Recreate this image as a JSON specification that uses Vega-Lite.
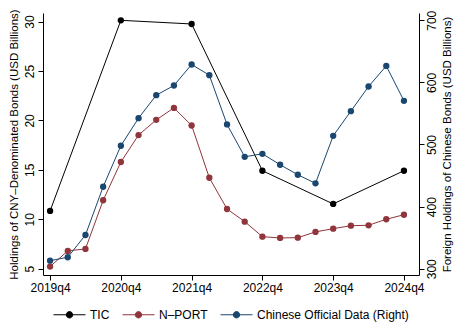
{
  "$schema": "https://vega.github.io/schema/vega-lite/v6.json",
  "width": 376,
  "height": 262,
  "autosize": "none",
  "padding": {"left": 43, "top": 13, "right": 41, "bottom": 54},
  "background": "white",
  "config": {
    "font": "Liberation Sans",
    "view": {"stroke": null},
    "axis": {"grid": false, "domainColor": "black", "tickColor": "black", "domainWidth": 1, "tickWidth": 1, "tickSize": 5, "labelColor": "black", "titleColor": "black", "labelFont": "Liberation Sans", "titleFont": "Liberation Sans", "labelFontSize": 12, "titleFontSize": 11.5, "titleFontWeight": "normal"}
  },
  "data": {"values": [
    {"t": 0, "s": "TIC", "v": 10.84},
    {"t": 4, "s": "TIC", "v": 30.13},
    {"t": 8, "s": "TIC", "v": 29.76},
    {"t": 12, "s": "TIC", "v": 14.91},
    {"t": 16, "s": "TIC", "v": 11.55},
    {"t": 20, "s": "TIC", "v": 14.91},
    {"t": 0, "s": "N–PORT", "v": 5.21},
    {"t": 1, "s": "N–PORT", "v": 6.8},
    {"t": 2, "s": "N–PORT", "v": 7.0},
    {"t": 3, "s": "N–PORT", "v": 11.92},
    {"t": 4, "s": "N–PORT", "v": 15.79},
    {"t": 5, "s": "N–PORT", "v": 18.52},
    {"t": 6, "s": "N–PORT", "v": 20.06},
    {"t": 7, "s": "N–PORT", "v": 21.27},
    {"t": 8, "s": "N–PORT", "v": 19.49},
    {"t": 9, "s": "N–PORT", "v": 14.2},
    {"t": 10, "s": "N–PORT", "v": 11.04},
    {"t": 11, "s": "N–PORT", "v": 9.76},
    {"t": 12, "s": "N–PORT", "v": 8.24},
    {"t": 13, "s": "N–PORT", "v": 8.11},
    {"t": 14, "s": "N–PORT", "v": 8.14},
    {"t": 15, "s": "N–PORT", "v": 8.72},
    {"t": 16, "s": "N–PORT", "v": 9.05},
    {"t": 17, "s": "N–PORT", "v": 9.35},
    {"t": 18, "s": "N–PORT", "v": 9.39},
    {"t": 19, "s": "N–PORT", "v": 10.0},
    {"t": 20, "s": "N–PORT", "v": 10.46},
    {"t": 0, "s": "Chinese Official Data (Right)", "v": 313},
    {"t": 1, "s": "Chinese Official Data (Right)", "v": 318.5},
    {"t": 2, "s": "Chinese Official Data (Right)", "v": 354.3},
    {"t": 3, "s": "Chinese Official Data (Right)", "v": 432},
    {"t": 4, "s": "Chinese Official Data (Right)", "v": 498},
    {"t": 5, "s": "Chinese Official Data (Right)", "v": 542.4},
    {"t": 6, "s": "Chinese Official Data (Right)", "v": 579.4},
    {"t": 7, "s": "Chinese Official Data (Right)", "v": 595},
    {"t": 8, "s": "Chinese Official Data (Right)", "v": 628.8},
    {"t": 9, "s": "Chinese Official Data (Right)", "v": 611.6},
    {"t": 10, "s": "Chinese Official Data (Right)", "v": 532.3},
    {"t": 11, "s": "Chinese Official Data (Right)", "v": 480.2},
    {"t": 12, "s": "Chinese Official Data (Right)", "v": 485},
    {"t": 13, "s": "Chinese Official Data (Right)", "v": 467.4},
    {"t": 14, "s": "Chinese Official Data (Right)", "v": 451.3},
    {"t": 15, "s": "Chinese Official Data (Right)", "v": 437.5},
    {"t": 16, "s": "Chinese Official Data (Right)", "v": 514},
    {"t": 17, "s": "Chinese Official Data (Right)", "v": 553.7},
    {"t": 18, "s": "Chinese Official Data (Right)", "v": 593.4},
    {"t": 19, "s": "Chinese Official Data (Right)", "v": 626.5},
    {"t": 20, "s": "Chinese Official Data (Right)", "v": 570.3}
  ]},
  "encoding": {
    "x": {"field": "t", "type": "quantitative", "scale": {"domain": [-0.4, 20.85], "nice": false, "zero": false},
      "axis": {"title": null, "values": [0, 4, 8, 12, 16, 20], "labelExpr": "toString(2019 + datum.value / 4) + 'q4'", "labelPadding": 2, "labelFlush": false}},
    "color": {"field": "s", "type": "nominal",
      "scale": {"domain": ["TIC", "N–PORT", "Chinese Official Data (Right)"], "range": ["#000000", "#90353b", "#1a476f"]},
      "legend": {"title": null, "orient": "none", "direction": "horizontal", "legendX": 10, "legendY": 285,
        "symbolType": "M-1,0H1M-0.2,0A0.2,0.2,0,1,0,0.2,0A0.2,0.2,0,1,0,-0.2,0Z",
        "symbolSize": 1024, "symbolStrokeWidth": 1, "labelFontSize": 12, "labelFont": "Liberation Sans", "labelColor": "black", "labelOffset": 4, "columnPadding": 10,
        "encode": {"symbols": {"update": {"fill": {"scale": "color", "field": "value"}, "stroke": {"scale": "color", "field": "value"}, "strokeWidth": {"value": 1}, "opacity": {"value": 1}}}}}
    }
  },
  "layer": [
    {
      "transform": [{"filter": "datum.s != 'Chinese Official Data (Right)'"}],
      "encoding": {
        "y": {"field": "v", "type": "quantitative", "scale": {"domain": [4.36, 30.87], "nice": false, "zero": false},
          "axis": {"title": "Holdings of CNY–Denominated Bonds (USD Billions)", "orient": "left", "values": [5, 10, 15, 20, 25, 30], "labelAngle": 270, "labelPadding": 2, "titlePadding": 4}}
      },
      "layer": [
        {"mark": {"type": "line", "strokeWidth": 1}},
        {"mark": {"type": "point", "filled": true, "size": 40, "opacity": 1}}
      ]
    },
    {
      "transform": [{"filter": "datum.s == 'Chinese Official Data (Right)'"}],
      "encoding": {
        "y": {"field": "v", "type": "quantitative", "scale": {"domain": [289.9, 711.7], "nice": false, "zero": false},
          "axis": {"title": "Foreign Holdings of Chinese Bonds (USD Billions)", "orient": "right", "values": [300, 400, 500, 600, 700], "labelAngle": 270, "labelAlign": "center", "labelBaseline": "top", "labelPadding": 2, "titleAngle": 270, "titleBaseline": "top", "titlePadding": 4}}
      },
      "layer": [
        {"mark": {"type": "line", "strokeWidth": 1}},
        {"mark": {"type": "point", "filled": true, "size": 40, "opacity": 1}}
      ]
    }
  ],
  "resolve": {"scale": {"y": "independent"}}
}
